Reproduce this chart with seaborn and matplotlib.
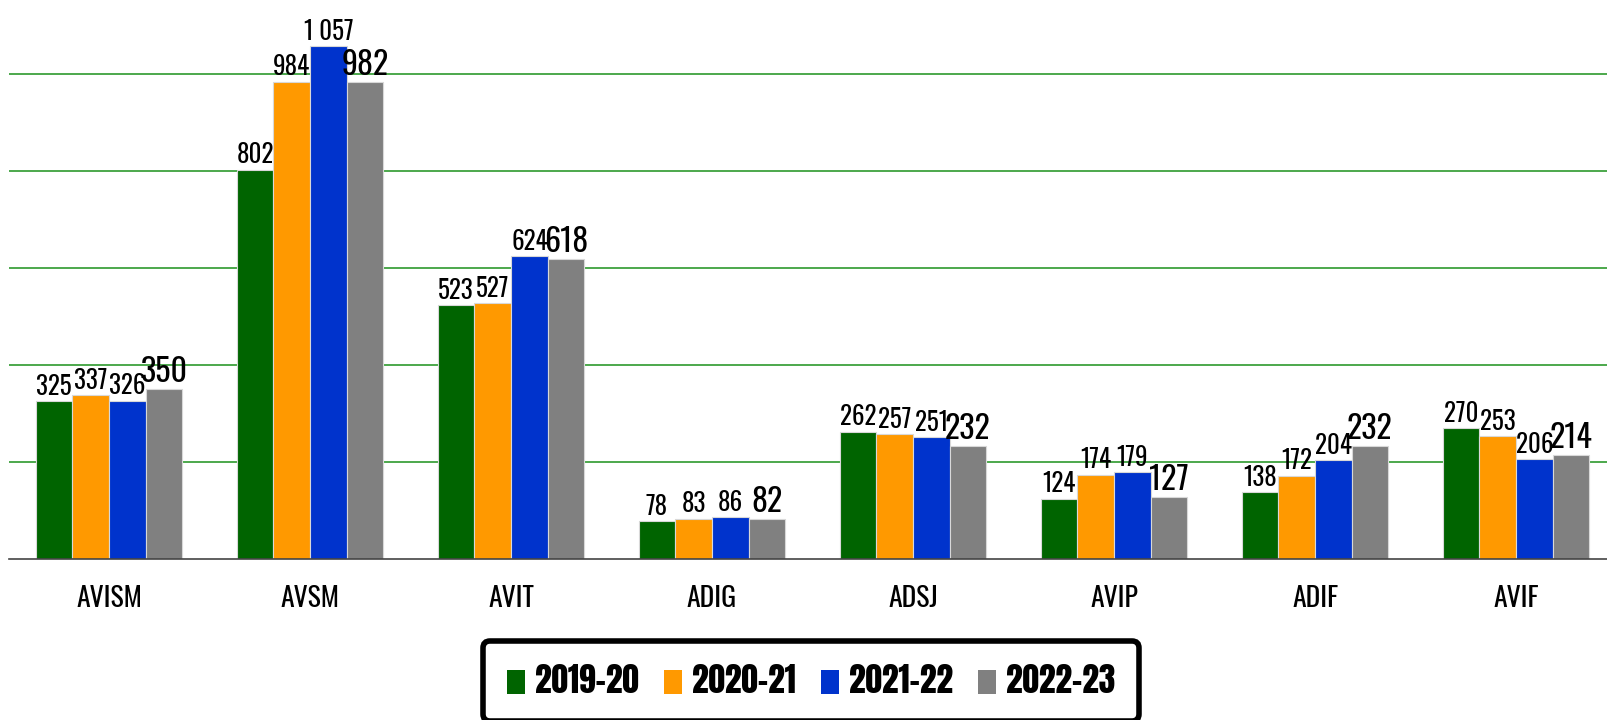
import numpy as np
import pandas as pd
import matplotlib
matplotlib.use("Agg")
import matplotlib.pyplot as plt
import seaborn as sns
from matplotlib.patches import Patch
from matplotlib import font_manager

# data
categories = ["AVISM", "AVSM", "AVIT", "ADIG", "ADSJ", "AVIP", "ADIF", "AVIF"]
years = ["2019-20", "2020-21", "2021-22", "2022-23"]
v_2019_20 = [325, 802, 523, 78, 262, 124, 138, 270]
v_2020_21 = [337, 984, 527, 83, 257, 174, 172, 253]
v_2021_22 = [326, 1057, 624, 86, 251, 179, 204, 206]
v_2022_23 = [350, 982, 618, 82, 232, 127, 232, 214]
colors = ["#006400", "#FF9900", "#0033CC", "#808080"]

rows = []
for yr, vals in zip(years, [v_2019_20, v_2020_21, v_2021_22, v_2022_23]):
    for cat, v in zip(categories, vals):
        rows.append({"cat": cat, "year": yr, "value": v})
df = pd.DataFrame(rows)


def pick(cands):
    # first installed family of the list
    have = {f.name for f in font_manager.fontManager.ttflist}
    for c in cands:
        if c in have:
            return c
    return "DejaVu Sans"


label_font = pick(["Oswald", "Antonio", "Barlow Condensed", "Roboto Condensed", "IBM Plex Sans Condensed"])
legend_font = pick(["Anton", "Fjalla One", "Oswald", "Barlow Condensed", "IBM Plex Sans Condensed"])

sns.set_style("white")
plt.rcParams['font.family'] = [label_font, 'DejaVu Sans']

fig = plt.figure(figsize=(16.08, 7.2), dpi=100)
ax = fig.add_axes([8.5 / 1608, 161 / 720, 1.0, 559 / 720])

sns.barplot(data=df, x="cat", y="value", hue="year", order=categories,
            hue_order=years, palette=colors, width=0.73, saturation=1,
            edgecolor="#d8d8d8", linewidth=0.8, legend=False, ax=ax)

ax.set_xlim(-0.5, len(categories) - 0.5)
ax.set_ylim(0, 1152)

# value labels, last season bigger
fmt = lambda v: f"{v:,.0f}".replace(",", " ")
for i, cont in enumerate(ax.containers):
    size = 23 if i == 3 else 18
    ax.bar_label(cont, labels=[fmt(b.get_height()) for b in cont],
                 padding=1, fontsize=size, color="black")

# grid and spines
ax.set_yticks([200, 400, 600, 800, 1000])
ax.set_yticklabels([])
ax.tick_params(axis="y", length=0)
ax.yaxis.grid(True, color="#2E9A2E", linewidth=1.2)
ax.set_axisbelow(True)
for s in ["left", "right", "top"]:
    ax.spines[s].set_visible(False)
ax.spines["bottom"].set_color("#444444")
ax.spines["bottom"].set_linewidth(1.2)

ax.set_xticks(range(len(categories)))
ax.set_xticklabels(categories, fontsize=20, color="black")
ax.tick_params(axis="x", which="major", length=0, pad=19)
ax.set_xticks(np.arange(-0.5, len(categories), 1), minor=True)
ax.tick_params(axis="x", which="minor", length=10, width=1, color="#444444", direction="out")
ax.set_xlabel("")
ax.set_ylabel("")

handles = [Patch(facecolor=c, edgecolor="none") for c in colors]
leg = fig.legend(handles, years, loc="upper center", bbox_to_anchor=(811 / 1608, 1 - 641 / 720),
                 ncol=4, frameon=True, fancybox=True, framealpha=1, labelcolor="black",
                 prop={"family": [legend_font, "DejaVu Sans"], "size": 24},
                 handlelength=0.55, handleheight=0.72, handletextpad=0.3, columnspacing=0.75,
                 borderpad=0.7, borderaxespad=0)
leg.get_frame().set_edgecolor("black")
leg.get_frame().set_linewidth(4)

fig.savefig("out.png", dpi=100)
